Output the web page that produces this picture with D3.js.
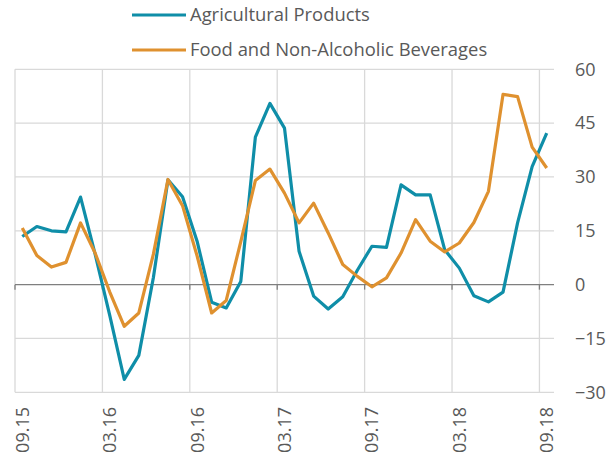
<!DOCTYPE html>
<meta charset="utf-8">
<style>
    body { margin: 0; background: #fff; }
    .grid line { stroke: #d9d9d9; stroke-width: 1.3px; }
    .lbl { font-family: "Open Sans", sans-serif; fill: #595959; }
    .line { fill: none; stroke-width: 3.2px; stroke-linejoin: round; }
</style>
<svg width="608" height="456"></svg>
<script src="https://d3js.org/d3.v7.min.js"></script>
<script>
// monthly, 09.15 .. 09.18
const months = ["09.15","10.15","11.15","12.15","01.16","02.16","03.16","04.16","05.16","06.16","07.16","08.16",
    "09.16","10.16","11.16","12.16","01.17","02.17","03.17","04.17","05.17","06.17","07.17","08.17",
    "09.17","10.17","11.17","12.17","01.18","02.18","03.18","04.18","05.18","06.18","07.18","08.18","09.18"];
const agri = [13.4, 16.2, 15.0, 14.7, 24.4, 8.5, -8.5, -26.4, -19.7, 2.0, 29.2, 24.5,
    12.1, -4.9, -6.5, 0.9, 41.1, 50.5, 43.6, 9.3, -3.2, -6.8, -3.4, 4.0,
    10.7, 10.4, 27.8, 25.0, 25.0, 9.7, 4.6, -3.1, -4.8, -2.1, 17.2, 32.9, 42.2];
const food = [15.8, 8.1, 4.9, 6.2, 17.2, 8.8, -2.0, -11.6, -7.9, 8.5, 29.3, 22.0,
    8.0, -7.9, -4.4, 12.0, 29.0, 32.2, 25.5, 17.2, 22.7, 14.4, 5.6, 2.3,
    -0.6, 1.9, 8.8, 18.1, 12.1, 9.1, 11.6, 17.3, 26.0, 53.0, 52.4, 38.3, 32.5];
const yTicks = [-30, -15, 0, 15, 30, 45, 60];
const labelMonths = ["09.15", "03.16", "09.16", "03.17", "09.17", "03.18", "09.18"];
const series = [
    { name: "Agricultural Products", values: agri, color: "#0f8ea8" },
    { name: "Food and Non-Alcoholic Beverages", values: food, color: "#df912f" }
];

const svg = d3.select("svg");
const plotLeft = 15, plotRight = 554, plotTop = 69.3, plotBottom = 392.3;

const x = d3.scaleLinear().domain([0, months.length]).range([plotLeft, plotRight]);
const y = d3.scaleLinear().domain([-30, 60]).range([plotBottom, plotTop]);

const labelIdx = labelMonths.map(m => months.indexOf(m));

// gridlines
const grid = svg.append("g").attr("class", "grid");
grid.selectAll(".h").data(yTicks.filter(d => d !== 0)).enter().append("line")
    .attr("x1", plotLeft).attr("x2", plotRight)
    .attr("y1", d => y(d)).attr("y2", d => y(d));
grid.selectAll(".v").data(labelIdx).enter().append("line")
    .attr("x1", d => x(d)).attr("x2", d => x(d))
    .attr("y1", plotTop).attr("y2", plotBottom);

// zero axis with ticks
const zero = svg.append("g").attr("stroke", "#7f7f7f").attr("stroke-width", 1.3);
zero.append("line").attr("x1", plotLeft).attr("x2", plotRight).attr("y1", y(0)).attr("y2", y(0));
zero.selectAll(".t").data(labelIdx).enter().append("line")
    .attr("x1", d => x(d)).attr("x2", d => x(d))
    .attr("y1", y(0)).attr("y2", y(0) + 5);

// y labels on right
const yAxis = svg.append("g")
    .attr("transform", `translate(${plotRight},0)`)
    .call(d3.axisRight(y).tickValues(yTicks).tickSize(0).tickPadding(21));
yAxis.select(".domain").remove();
yAxis.selectAll("text").attr("class", "lbl").attr("font-size", 18).attr("fill", "#595959")
    .style("font-family", "'Open Sans', sans-serif");

// x labels, rotated
svg.selectAll(".xl").data(labelIdx).enter().append("text")
    .attr("class", "lbl")
    .attr("font-size", 18)
    .attr("text-anchor", "end")
    .attr("transform", d => `translate(${x(d + 0.5)},407) rotate(-90)`)
    .attr("dy", "0.36em")
    .text(d => months[d]);

// lines
const line = d3.line()
    .x((d, i) => x(i + 0.5))
    .y(d => y(d));

series.forEach(s => {
    svg.append("path")
        .datum(s.values)
        .attr("class", "line")
        .attr("stroke", s.color)
        .attr("d", line);
});

// legend
const legend = svg.append("g");
series.forEach((s, i) => {
    const ly = 15 + i * 35;
    legend.append("line")
        .attr("x1", 132).attr("x2", 186)
        .attr("y1", ly).attr("y2", ly)
        .attr("stroke", s.color).attr("stroke-width", 3.2);
    legend.append("text")
        .attr("class", "lbl")
        .attr("font-size", 18.4)
        .attr("x", 190).attr("y", ly)
        .attr("dy", "0.35em")
        .text(s.name);
});
</script>
